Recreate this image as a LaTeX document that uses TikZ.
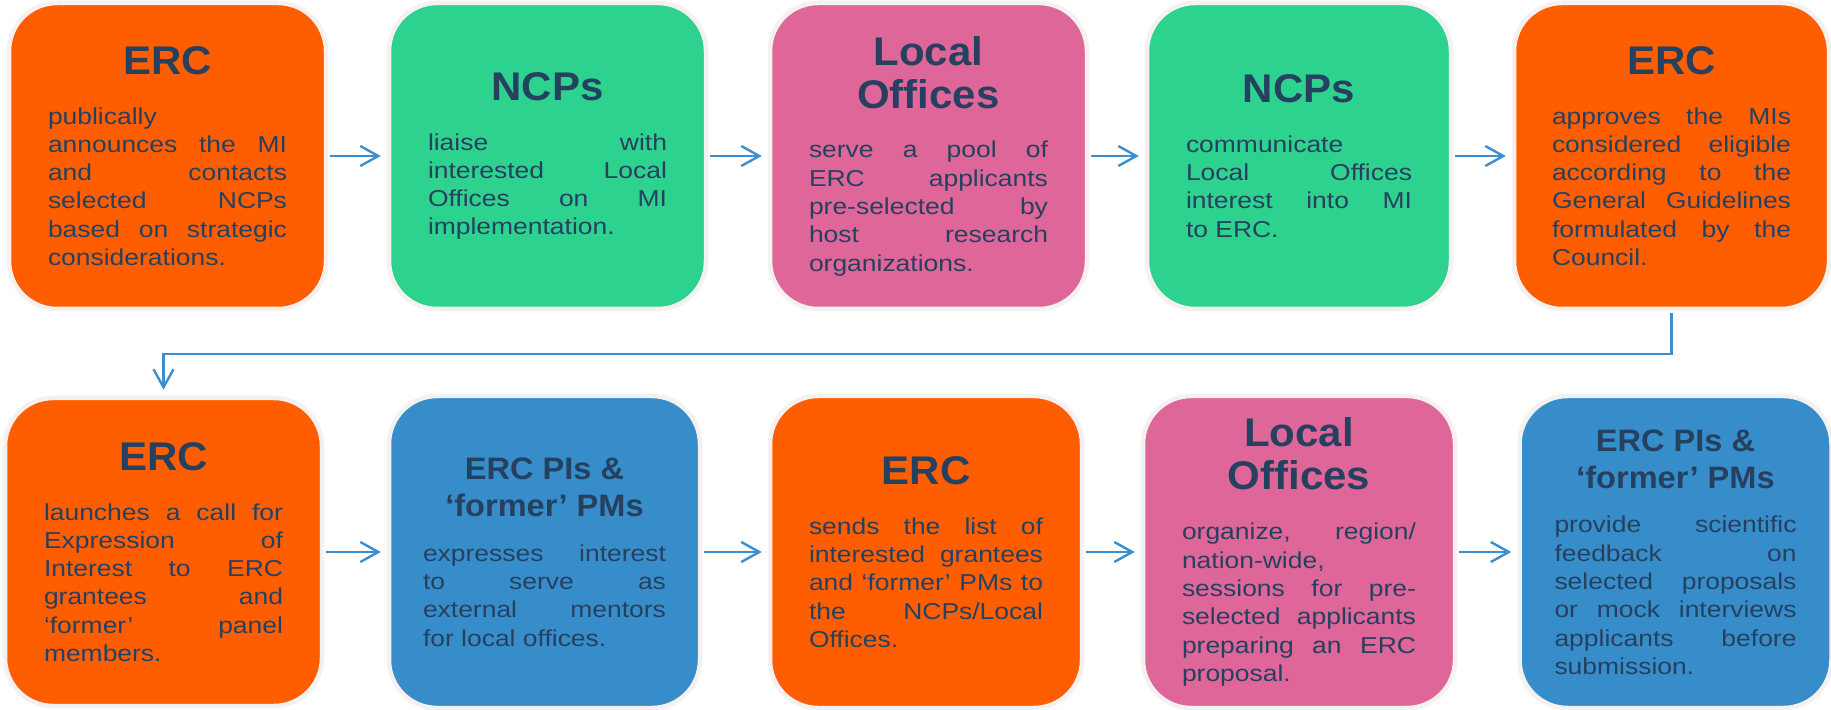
\documentclass[tikz,border=0pt]{standalone}
\usepackage{fontspec}
\setmainfont{Liberation Sans}[FakeStretch=1.15]
\newfontfamily\headfont{Liberation Sans}[FakeStretch=1.05]
\usepackage{tikz}
\usetikzlibrary{arrows.meta, positioning}

\definecolor{ercorange}{RGB}{255,94,0}
\definecolor{ncpgreen}{RGB}{46,210,143}
\definecolor{officepink}{RGB}{223,102,152}
\definecolor{piblue}{RGB}{54,141,202}
\definecolor{inkcol}{RGB}{38,64,96}
\definecolor{edgecol}{RGB}{245,241,240}
\definecolor{flowcol}{RGB}{59,142,208}

\newcommand{\bigstep}[2]{\parindent=0pt{\centering\headfont\bfseries\fontsize{20}{21.5}\selectfont #1\par}\vspace{10.8pt}\rightskip=0pt #2}
\newcommand{\smallstep}[2]{\parindent=0pt{\centering\headfont\bfseries\fontsize{15.5}{18.5}\selectfont #1\par}\vspace{8.3pt}\rightskip=0pt #2}

\begin{document}
\begin{tikzpicture}[x=0.5pt, y=-0.5pt,
	stepbox/.style={draw=edgecol, line width=2.25pt, rounded corners=24pt, text=inkcol,
		inner sep=0pt, align=justify, font=\fontsize{11.5}{14.15}\selectfont},
	toprow/.style={stepbox, minimum width=158.5pt, minimum height=153pt, text width=119.5pt},
	lowrow/.style={stepbox, minimum width=156pt, minimum height=156pt, text width=117pt},
	flow/.style={draw=flowcol, line width=1.2pt, -{Straight Barb[length=9pt, width=10pt]},
		shorten >=3pt, shorten <=1pt}]
	\useasboundingbox (0,0) rectangle (1831,710);
	% first row
	\node[toprow, fill=ercorange] (erc1) at (167.5, 156) {\bigstep{ERC}{publically\linebreak
		announces the MI\linebreak and contacts\linebreak selected NCPs\linebreak
		based on strategic\linebreak considerations.}};
	\node[toprow, fill=ncpgreen] (ncp1) at (547.5, 156) {\bigstep{NCPs}{liaise with\linebreak
		interested Local\linebreak Offices on MI\linebreak implementation.}};
	\node[toprow, fill=officepink] (off1) at (928.5, 156) {\bigstep{Local\\Offices}{serve a pool of\linebreak
		ERC applicants\linebreak pre-selected by\linebreak host research\linebreak organizations.}};
	\node[toprow, fill=ncpgreen, minimum width=152pt, text width=113pt] (ncp2) at (1299, 156)
		{\bigstep{NCPs}{communicate\linebreak Local Offices\linebreak interest into MI\linebreak to ERC.}};
	\node[toprow, fill=ercorange, minimum width=157.5pt] (erc2) at (1671.5, 156) {\bigstep{ERC}{approves the MIs\linebreak
		considered eligible\linebreak according to the\linebreak General Guidelines\linebreak
		formulated by the\linebreak Council.}};
	% second row
	\node[lowrow, fill=ercorange, minimum width=158.5pt, minimum height=154pt, text width=119.5pt] (erc3) at (163.5, 552)
		{\bigstep{ERC}{launches a call for\linebreak Expression of\linebreak Interest to ERC\linebreak
		grantees and\linebreak ‘former’ panel\linebreak members.}};
	\node[lowrow, fill=piblue, minimum width=155.5pt, text width=121.5pt] (pis1) at (544.5, 552)
		{\smallstep{ERC PIs \&\\‘former’ PMs}{expresses interest\linebreak to serve as\linebreak
		external mentors\linebreak for local offices.}};
	\node[lowrow, fill=ercorange] (erc4) at (926, 552) {\bigstep{ERC}{sends the list of\linebreak
		interested grantees\linebreak and ‘former’ PMs to\linebreak the NCPs/Local\linebreak Offices.}};
	\node[lowrow, fill=officepink] (off2) at (1299, 552) {\bigstep{Local\\Offices}{organize, region/\linebreak
		nation-wide,\linebreak sessions for pre-\linebreak selected applicants\linebreak
		preparing an ERC\linebreak proposal.}};
	\node[lowrow, fill=piblue, text width=121pt] (pis2) at (1675.5, 552)
		{\smallstep{ERC PIs \&\\‘former’ PMs}{provide scientific\linebreak feedback on\linebreak
		selected proposals\linebreak or mock interviews\linebreak applicants before\linebreak submission.}};
	% arrows
	\draw[flow] (erc1) -- (ncp1);
	\draw[flow] (ncp1) -- (off1);
	\draw[flow] (off1) -- (ncp2);
	\draw[flow] (ncp2) -- (erc2);
	\draw[flow] (erc2.south) -- ++(0, 43) -| (erc3.north);
	\draw[flow] (erc3) -- (pis1);
	\draw[flow] (pis1) -- (erc4);
	\draw[flow] (erc4) -- (off2);
	\draw[flow] (off2) -- (pis2);
\end{tikzpicture}
\end{document}
